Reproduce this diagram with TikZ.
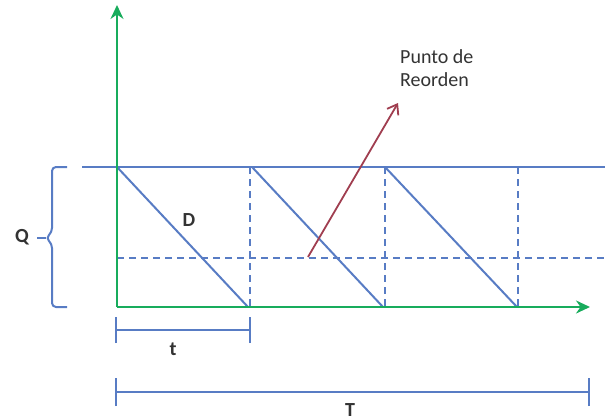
\documentclass[tikz,border=0pt]{standalone}
\usepackage{fontspec}
\setmainfont{Carlito}
\definecolor{axisgreen}{RGB}{24,172,92}
\definecolor{lineblue}{RGB}{88,124,196}
\definecolor{pointred}{RGB}{160,62,80}
\usetikzlibrary{arrows.meta, positioning}

\begin{document}
\begin{tikzpicture}[x=1pt, y=-1pt, font=\fontsize{20}{23}\selectfont]
  \tikzstyle{axis} = [draw=axisgreen, line width=2.8pt, -{Stealth[length=14pt,width=13pt]}]
  \tikzstyle{level} = [draw=lineblue, line width=2pt]
  \tikzstyle{guide} = [draw=lineblue, line width=2pt, dash pattern=on 7pt off 5pt]
  \tikzstyle{txt} = [inner sep=0pt, text=black!80]
  \tikzstyle{sym} = [txt, font=\fontsize{20}{23}\selectfont\bfseries]
  \useasboundingbox (0,0) rectangle (605,420);

  % points of the inventory curve
  \coordinate (O) at (117,307);
  \coordinate (ytop) at (117,5);
  \coordinate (xend) at (590,307);
  \coordinate (Qtop) at (82,167);
  \coordinate (Qend) at (605,167);
  \coordinate (Rstart) at (117,258);
  \coordinate (Rend) at (605,258);
  \coordinate (a0) at (117,167);
  \coordinate (b1) at (248,307);
  \coordinate (a1) at (252,167);
  \coordinate (b2) at (383,307);
  \coordinate (a2) at (385,167);
  \coordinate (b3) at (517,307);

  % order level and reorder level
  \path [level] (Qtop) -- (Qend);
  \path [guide] (Rstart) -- (Rend);
  \foreach \x in {250,385,518}
    \path [guide] (\x,167) -- (\x,307);

  % sawtooth
  \path [level] (a0) -- (b1);
  \path [level] (a1) -- (b2);
  \path [level] (a2) -- (b3);

  % axes
  \path [axis] (O) -- (ytop);
  \path [axis] (O) -- (xend);

  % brace for Q
  \draw [lineblue, line width=2pt, rounded corners=4pt]
    (67,167) -- (52,167) -- (52,232) -- (46,238) -- (52,244) -- (52,307) -- (67,307);
  \draw [lineblue, line width=2pt] (46,238) -- (37,238);
  \node [sym] (Qlab) at (22,237) {Q};

  % reorder point
  \coordinate (rp) at (308,257);
  \coordinate (rtip) at (398,103);
  \path [draw=pointred, line width=1.8pt, -{Straight Barb[length=9pt,width=13pt]}] (rp) -- (rtip);
  \node [txt, anchor=north west, align=left] (reorden) at (400,49) {Punto de\\Reorden};

  \node [sym] (Dlab) at (189,220) {D};

  % cycle length t
  \coordinate (t0) at (116,330);
  \coordinate (t1) at (250,330);
  \path [level] (t0) -- (t1);
  \path [level] ([yshift=-13pt]t0) -- ([yshift=13pt]t0);
  \path [level] ([yshift=-13pt]t1) -- ([yshift=13pt]t1);
  \node [sym] (tlab) at (173,349) {t};

  % horizon T
  \coordinate (T0) at (116,392);
  \coordinate (T1) at (589,392);
  \path [level] (T0) -- (T1);
  \path [level] ([yshift=-14pt]T0) -- ([yshift=14pt]T0);
  \path [level] ([yshift=-14pt]T1) -- ([yshift=14pt]T1);
  \node [sym] (Tlab) at (350,410) {T};
\end{tikzpicture}
\end{document}
